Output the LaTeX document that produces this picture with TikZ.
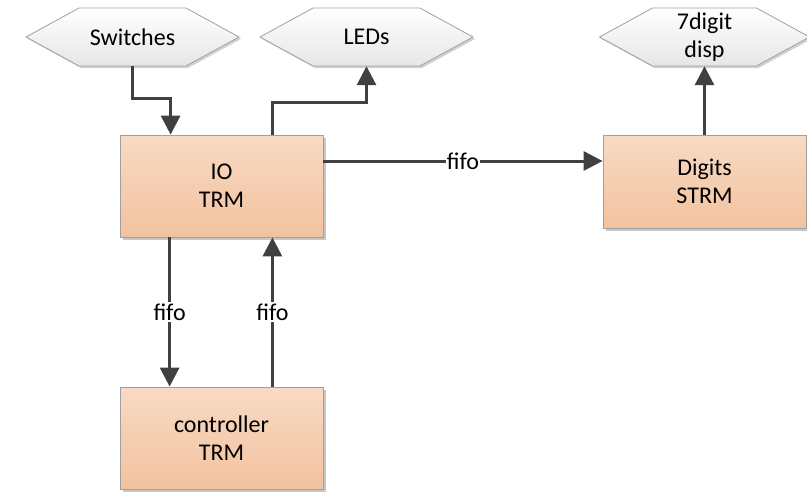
\documentclass[tikz,border=0pt]{standalone}
\usepackage{fontspec}
\setmainfont{Carlito}
\usetikzlibrary{arrows.meta,shadows}
\definecolor{boxtop}{HTML}{F8DAC4}
\definecolor{boxbot}{HTML}{F2C29E}
\definecolor{boxline}{HTML}{A0A0A0}
\definecolor{hexbot}{HTML}{E6E6E6}
\definecolor{conncol}{HTML}{404040}
\tikzset{
  txt/.style={font=\fontsize{24}{28}\selectfont, align=center, text=black},
  trmbox/.style={txt, draw=boxline, line width=0.8pt, top color=boxtop, bottom color=boxbot,
    minimum width=203pt, inner sep=0pt,
    drop shadow={shadow xshift=2.5pt, shadow yshift=-2.5pt, fill=black, opacity=0.22}},
  hexlabel/.style={txt, inner sep=0pt, minimum width=213pt, minimum height=58pt},
  hexshape/.style={draw=boxline, line width=0.8pt, top color=white, bottom color=hexbot,
    drop shadow={shadow xshift=2pt, shadow yshift=-2pt, fill=black, opacity=0.18}},
  conn/.style={draw=conncol, line width=3pt, -{Triangle[length=19pt,width=19pt]}},
  lab/.style={txt, fill=white, inner xsep=0.5pt, inner ysep=2pt},
}
\newcommand\hexpath[3]{% x, y, half width
  \path[hexshape] ({#1-#3},#2) -- ({#1-#3+53},{#2-29}) -- ({#1+#3-53},{#2-29})
    -- ({#1+#3},#2) -- ({#1+#3-53},{#2+29}) -- ({#1-#3+53},{#2+29}) -- cycle;}
\begin{document}
\begin{tikzpicture}[x=1pt,y=-1pt]
\useasboundingbox (0,0) rectangle (807,491);
% hexagons
\hexpath{132.5}{37}{106.5}
\node[hexlabel] (sw) at (132.5,37) {Switches};
\hexpath{366.5}{37}{106.5}
\node[hexlabel] (leds) at (366.5,37) {LEDs};
\hexpath{704.5}{37}{105}
\node[hexlabel, minimum width=210pt] (disp) at (704.5,37) {7digit\\disp};
% boxes
\node[trmbox, minimum height=102pt] (io) at (221.5,186) {IO\\TRM};
\node[trmbox, minimum height=102pt] (ctrl) at (221.5,438) {controller\\TRM};
\node[trmbox, minimum height=93pt] (dig) at (704.5,181.5) {Digits\\STRM};
% connectors
\draw[conn] (sw.south) -- ++(0,32) -| ([xshift=51pt]io.north west);
\draw[conn] ([xshift=-51pt]io.north east) -- ++(0,-32) -| (leds.south);
\draw[conn] ([yshift=25pt]io.east) -- ([yshift=25pt]io.east -| dig.west)
  node[midway, lab] {fifo};
\draw[conn] ([xshift=50pt]io.south west) -- ([xshift=50pt]ctrl.north west)
  node[midway, lab] {fifo};
\draw[conn] ([xshift=-51pt]ctrl.north east) -- ([xshift=-51pt]io.south east)
  node[midway, lab] {fifo};
\draw[conn] (dig.north) -- (disp.south);
\end{tikzpicture}
\end{document}
